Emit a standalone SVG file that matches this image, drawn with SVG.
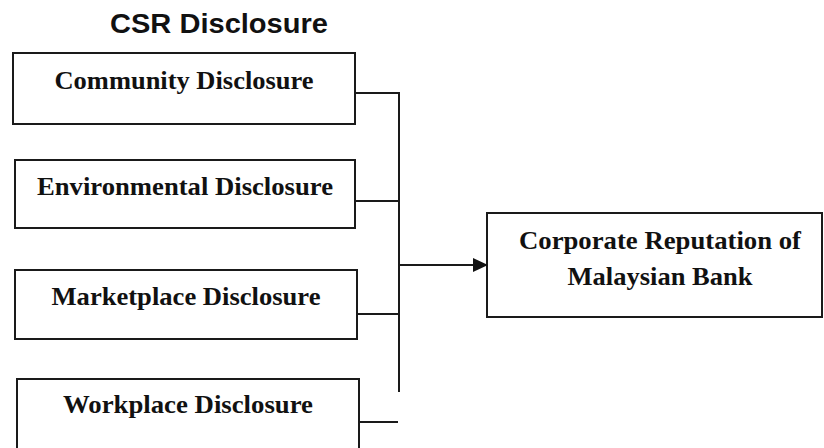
<svg xmlns="http://www.w3.org/2000/svg" width="824" height="448" viewBox="0 0 824 448">
<defs>
<style>
.box{fill:#fff;stroke:#1a1a1a;stroke-width:2}
.lbl{font-family:"Liberation Serif","Times New Roman",serif;font-weight:bold;font-size:25px;fill:#111;text-anchor:middle}
.title{font-family:"Liberation Sans",Arial,sans-serif;font-weight:bold;font-size:27px;fill:#111;text-anchor:middle}
.wire{fill:none;stroke:#1a1a1a;stroke-width:2}
</style>
<marker id="arr" markerWidth="16" markerHeight="14" refX="15" refY="7" orient="auto" markerUnits="userSpaceOnUse">
<path d="M0,0 L15,7 L0,14 Z" fill="#111"/>
</marker>
</defs>
<rect width="824" height="448" fill="#fff"/>
<text class="title" x="219" y="33" textLength="218" lengthAdjust="spacingAndGlyphs">CSR Disclosure</text>
<g id="community">
<rect class="box" x="13" y="53" width="342" height="71"/>
<text class="lbl" x="184" y="89" textLength="259" lengthAdjust="spacingAndGlyphs">Community Disclosure</text>
</g>
<g id="environmental">
<rect class="box" x="15" y="160" width="340" height="68"/>
<text class="lbl" x="185" y="195" textLength="296" lengthAdjust="spacingAndGlyphs">Environmental Disclosure</text>
</g>
<g id="marketplace">
<rect class="box" x="15" y="270" width="342" height="69"/>
<text class="lbl" x="186" y="305" textLength="269" lengthAdjust="spacingAndGlyphs">Marketplace Disclosure</text>
</g>
<g id="workplace">
<rect class="box" x="17" y="379" width="342" height="70"/>
<text class="lbl" x="188" y="413" textLength="250" lengthAdjust="spacingAndGlyphs">Workplace Disclosure</text>
</g>
<g id="reputation">
<rect class="box" x="487" y="213" width="335" height="104"/>
<text class="lbl" x="660" y="249" textLength="282" lengthAdjust="spacingAndGlyphs">Corporate Reputation of</text>
<text class="lbl" x="660" y="285" textLength="185" lengthAdjust="spacingAndGlyphs">Malaysian Bank</text>
</g>
<g id="connectors">
<path class="wire" d="M355,93 H399 V392"/>
<path class="wire" d="M355,201 H399"/>
<path class="wire" d="M357,314 H399"/>
<path class="wire" d="M359,422 H398"/>
<path class="wire" d="M399,265 H488" marker-end="url(#arr)"/>
</g>
</svg>
